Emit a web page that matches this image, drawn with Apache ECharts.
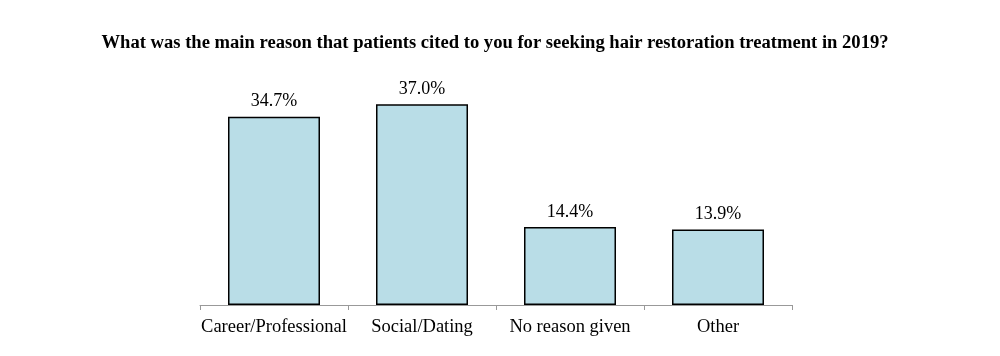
<!DOCTYPE html>
<html><head><meta charset="utf-8">
<script src="https://cdn.jsdelivr.net/npm/echarts@6/dist/echarts.min.js"></script>
<style>html,body{margin:0;padding:0;background:#fff}#c{width:1000px;height:356px}</style>
</head><body><div id="c"></div>
<script>
const categories = ['Career/Professional', 'Social/Dating', 'No reason given', 'Other'];
const values = [34.7, 37.0, 14.4, 13.9];
const titleText = 'What was the main reason that patients cited to you for seeking hair restoration treatment in 2019?';

const chart = echarts.init(document.getElementById('c'));
chart.setOption({
  animation: false,
  title: {
    text: titleText, left: 490, textAlign: 'center', top: 29,
    textStyle: { fontFamily: 'Liberation Serif', fontWeight: 'bold', fontSize: 18.6, color: '#000' }
  },
  grid: { left: 200, right: 208, top: 88, bottom: 51 },
  xAxis: {
    type: 'category', data: categories,
    axisLine: { lineStyle: { color: '#999', width: 1 } },
    axisTick: { show: true, length: 5, lineStyle: { color: '#999' } },
    axisLabel: { interval: 0, fontFamily: 'Liberation Serif', fontSize: 18.5, color: '#000', margin: 13 }
  },
  yAxis: { type: 'value', min: 0, max: 40, show: false, splitLine: { show: false } },
  series: [{
    type: 'bar', data: values, barWidth: 92,
    itemStyle: { color: '#b9dde7', borderColor: '#000', borderWidth: 1.5 },
    label: {
      show: true, position: 'top', distance: 6,
      formatter: p => p.value.toFixed(1) + '%',
      fontFamily: 'Liberation Serif', fontSize: 18, color: '#000'
    }
  }]
});
</script></body></html>
